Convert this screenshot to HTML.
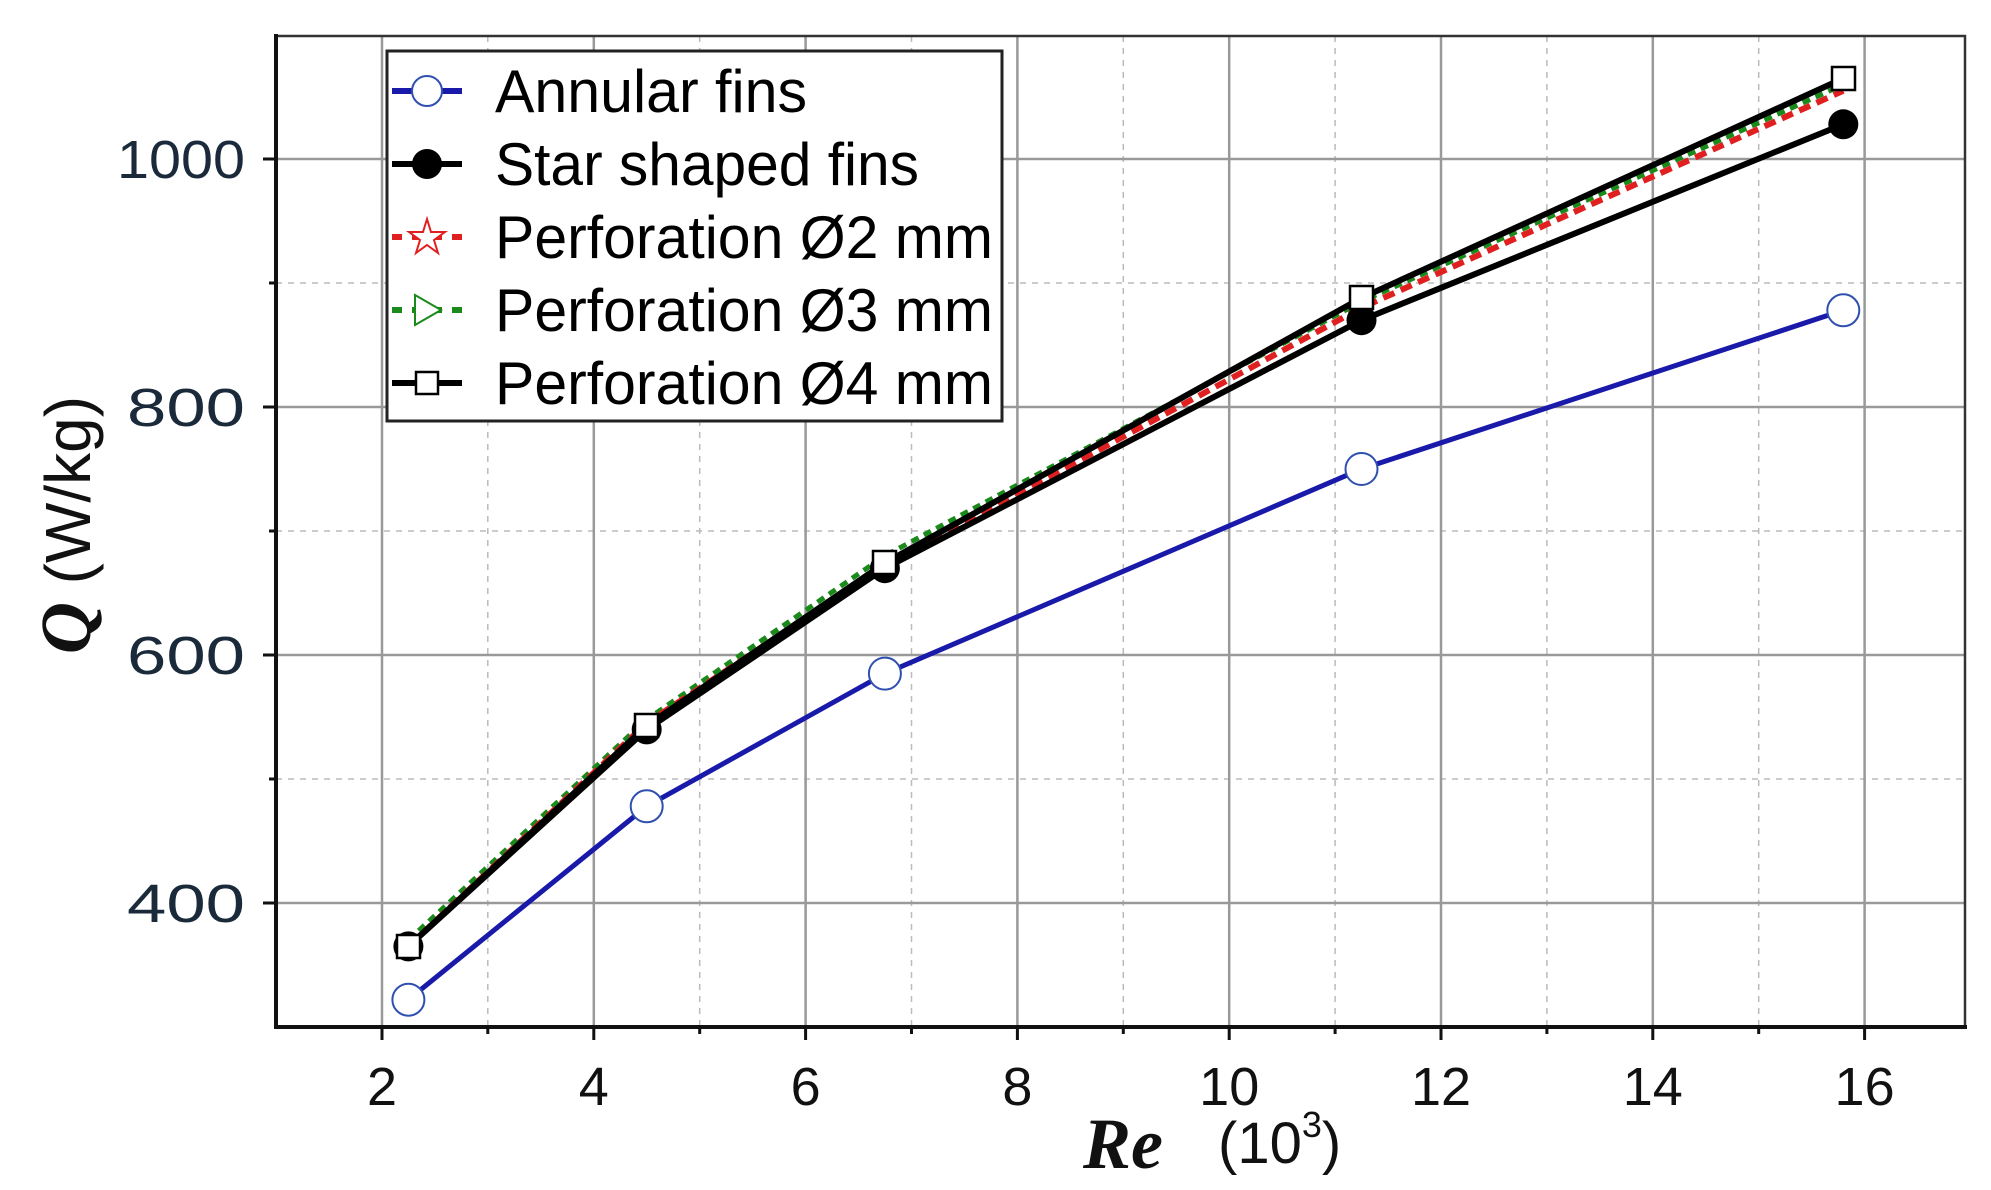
<!DOCTYPE html>
<html><head><meta charset="utf-8"><style>
html,body{margin:0;padding:0;background:#fff;}
svg{display:block;}
</style></head><body>
<svg width="1991" height="1190" viewBox="0 0 1991 1190" xmlns="http://www.w3.org/2000/svg" font-family="Liberation Sans, sans-serif">
<rect width="1991" height="1190" fill="#fff"/>
<g stroke="#bbb" stroke-width="1.5" stroke-dasharray="6,6">
<line x1="487.8" y1="36" x2="487.8" y2="1027"/><line x1="699.7" y1="36" x2="699.7" y2="1027"/>
<line x1="911.5" y1="36" x2="911.5" y2="1027"/><line x1="1123.3" y1="36" x2="1123.3" y2="1027"/>
<line x1="1335.1" y1="36" x2="1335.1" y2="1027"/><line x1="1546.9" y1="36" x2="1546.9" y2="1027"/>
<line x1="1758.7" y1="36" x2="1758.7" y2="1027"/>
<line x1="276" y1="779" x2="1965" y2="779"/><line x1="276" y1="531" x2="1965" y2="531"/><line x1="276" y1="283" x2="1965" y2="283"/>
</g>
<g stroke="#999" stroke-width="2.5">
<line x1="382" y1="36" x2="382" y2="1027"/><line x1="593.8" y1="36" x2="593.8" y2="1027"/>
<line x1="805.6" y1="36" x2="805.6" y2="1027"/><line x1="1017.4" y1="36" x2="1017.4" y2="1027"/>
<line x1="1229.2" y1="36" x2="1229.2" y2="1027"/><line x1="1441" y1="36" x2="1441" y2="1027"/>
<line x1="1652.8" y1="36" x2="1652.8" y2="1027"/><line x1="1864.6" y1="36" x2="1864.6" y2="1027"/>
<line x1="276" y1="903" x2="1965" y2="903"/><line x1="276" y1="655" x2="1965" y2="655"/>
<line x1="276" y1="407" x2="1965" y2="407"/><line x1="276" y1="159" x2="1965" y2="159"/>
</g>
<rect x="276" y="36" width="1689" height="991" fill="none" stroke="#333" stroke-width="2.5"/>
<line x1="276" y1="34" x2="276" y2="1029" stroke="#111" stroke-width="4"/>
<line x1="274" y1="1027" x2="1967" y2="1027" stroke="#111" stroke-width="4"/>
<g stroke="#111" stroke-width="3">
<line x1="382" y1="1027" x2="382" y2="1040"/><line x1="593.8" y1="1027" x2="593.8" y2="1040"/>
<line x1="805.6" y1="1027" x2="805.6" y2="1040"/><line x1="1017.4" y1="1027" x2="1017.4" y2="1040"/>
<line x1="1229.2" y1="1027" x2="1229.2" y2="1040"/><line x1="1441" y1="1027" x2="1441" y2="1040"/>
<line x1="1652.8" y1="1027" x2="1652.8" y2="1040"/><line x1="1864.6" y1="1027" x2="1864.6" y2="1040"/>
<line x1="487.8" y1="1027" x2="487.8" y2="1034"/><line x1="699.7" y1="1027" x2="699.7" y2="1034"/>
<line x1="911.5" y1="1027" x2="911.5" y2="1034"/><line x1="1123.3" y1="1027" x2="1123.3" y2="1034"/>
<line x1="1335.1" y1="1027" x2="1335.1" y2="1034"/><line x1="1546.9" y1="1027" x2="1546.9" y2="1034"/>
<line x1="1758.7" y1="1027" x2="1758.7" y2="1034"/>
<line x1="263" y1="903" x2="276" y2="903"/><line x1="263" y1="655" x2="276" y2="655"/>
<line x1="263" y1="407" x2="276" y2="407"/><line x1="263" y1="159" x2="276" y2="159"/>
<line x1="269" y1="779" x2="276" y2="779"/><line x1="269" y1="531" x2="276" y2="531"/><line x1="269" y1="283" x2="276" y2="283"/>
</g>
<g font-size="54" fill="#111" text-anchor="middle">
<text x="382" y="1105">2</text><text x="593.8" y="1105">4</text><text x="805.6" y="1105">6</text>
<text x="1017.4" y="1105">8</text><text x="1229.2" y="1105">10</text><text x="1441" y="1105">12</text>
<text x="1652.8" y="1105">14</text><text x="1864.6" y="1105">16</text>
</g>
<g font-size="54" fill="#1a2a3a" text-anchor="end">
<text x="245" y="922" textLength="118" lengthAdjust="spacingAndGlyphs">400</text>
<text x="245" y="674" textLength="118" lengthAdjust="spacingAndGlyphs">600</text>
<text x="245" y="426" textLength="118" lengthAdjust="spacingAndGlyphs">800</text>
<text x="245" y="178" textLength="128" lengthAdjust="spacingAndGlyphs">1000</text>
</g>
<text x="1083" y="1168" font-family="Liberation Serif, serif" font-weight="bold" font-style="italic" font-size="72" fill="#111">Re</text>
<text x="1218" y="1163" font-size="58" fill="#111">(10<tspan font-size="36" dy="-26">3</tspan><tspan dy="26">)</tspan></text>
<g transform="translate(90,525) rotate(-90)">
<text x="0" y="0" text-anchor="middle" fill="#111"><tspan font-family="Liberation Serif, serif" font-weight="bold" font-style="italic" font-size="72">Q</tspan><tspan font-size="64"> (W/kg)</tspan></text>
</g>
<polyline points="408.4,999.7 646.7,806.3 884.9,673.6 1361.5,469 1843.3,310.3" fill="none" stroke="#1a1aaa" stroke-width="5"/>
<polyline points="408.4,940.2 646.7,719.5 884.9,555.8 1361.5,301.6 1843.3,84.6" fill="none" stroke="#1a8a1a" stroke-width="5" stroke-dasharray="8,6"/>
<polyline points="408.4,946.4 646.7,723.2 884.9,565.7 1361.5,307.8 1843.3,90.8" fill="none" stroke="#e02020" stroke-width="6" stroke-dasharray="12,7"/>
<polyline points="408.4,946.4 646.7,729.4 884.9,568.2 1361.5,320.2 1843.3,124.3" fill="none" stroke="#000" stroke-width="6"/>
<polyline points="408.4,946.4 646.7,725.7 884.9,563 1361.5,297.9 1843.3,78.4" fill="none" stroke="#000" stroke-width="6"/>
<g fill="#fff" stroke="#3050b0" stroke-width="2">
<circle cx="408.4" cy="999.7" r="16"/><circle cx="646.7" cy="806.3" r="16"/><circle cx="884.9" cy="673.6" r="16"/>
<circle cx="1361.5" cy="469" r="16"/><circle cx="1843.3" cy="310.3" r="16"/>
</g>
<g fill="#000">
<circle cx="408.4" cy="946.4" r="15"/><circle cx="646.7" cy="729.4" r="15"/><circle cx="884.9" cy="568.2" r="15"/>
<circle cx="1361.5" cy="320.2" r="15"/><circle cx="1843.3" cy="124.3" r="15"/>
</g>
<g fill="#fff" stroke="#000" stroke-width="2.5">
<rect x="397" y="935" width="23" height="23"/><rect x="635" y="714" width="23" height="23"/><rect x="873" y="551" width="23" height="23"/>
<rect x="1350" y="286" width="23" height="23"/><rect x="1832" y="67" width="23" height="23"/>
</g>
<rect x="387" y="51" width="615" height="370" fill="#fff" stroke="#222" stroke-width="3"/>
<g stroke-width="6">
<line x1="392" y1="91" x2="462" y2="91" stroke="#1a1aaa"/>
<circle cx="427" cy="91" r="15" fill="#fff" stroke="#3050b0" stroke-width="2"/>
<line x1="392" y1="164" x2="462" y2="164" stroke="#000"/>
<circle cx="427" cy="164" r="15" fill="#000" stroke="none"/>
<line x1="392" y1="237" x2="462" y2="237" stroke="#e02020" stroke-dasharray="10,10"/>
<polygon points="427,219 431,232 445,232 434,240 438,253 427,245 416,253 420,240 409,232 423,232" fill="#fff" stroke="#e02020" stroke-width="2"/>
<line x1="392" y1="310" x2="462" y2="310" stroke="#1a8a1a" stroke-dasharray="10,10"/>
<polygon points="415,295 441,310 415,325" fill="#fff" stroke="#1a8a1a" stroke-width="2"/>
<line x1="392" y1="383" x2="462" y2="383" stroke="#000"/>
<rect x="416" y="372" width="22" height="22" fill="#fff" stroke="#000" stroke-width="2.5"/>
</g>
<g font-size="60" fill="#000">
<text x="495" y="112" textLength="312" lengthAdjust="spacingAndGlyphs">Annular fins</text>
<text x="495" y="185" textLength="424" lengthAdjust="spacingAndGlyphs">Star shaped fins</text>
<text x="495" y="258" textLength="498" lengthAdjust="spacingAndGlyphs">Perforation Ø2 mm</text>
<text x="495" y="331" textLength="498" lengthAdjust="spacingAndGlyphs">Perforation Ø3 mm</text>
<text x="495" y="404" textLength="498" lengthAdjust="spacingAndGlyphs">Perforation Ø4 mm</text>
</g>
</svg>
</body></html>
